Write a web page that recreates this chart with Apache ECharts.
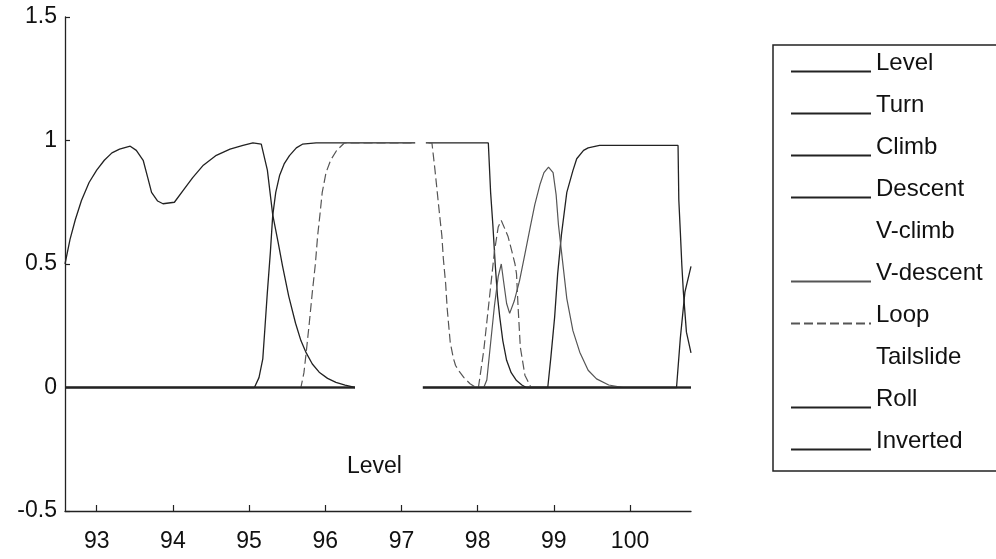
<!DOCTYPE html>
<html>
<head>
<meta charset="utf-8">
<script src="https://cdn.jsdelivr.net/npm/echarts@6/dist/echarts.min.js"></script>
<style>
html,body{margin:0;padding:0;background:#fff;}
#chart{width:996px;height:559px;}
</style>
</head>
<body>
<div id="chart"></div>
<script>
// ---- data (time, output) ----
const xTicks = [93, 94, 95, 96, 97, 98, 99, 100];
const legendNames = ['Level', 'Turn', 'Climb', 'Descent', 'V-climb', 'V-descent', 'Loop', 'Tailslide', 'Roll', 'Inverted'];

const levelPts = [
  [92.584,0.50],[92.65,0.60],[92.72,0.68],[92.80,0.757],[92.90,0.83],[93.00,0.88],[93.10,0.92],[93.20,0.95],
  [93.30,0.965],[93.44,0.977],[93.52,0.96],[93.61,0.92],[93.67,0.85],[93.72,0.79],[93.80,0.755],[93.87,0.744],
  [94.02,0.75],[94.14,0.80],[94.26,0.85],[94.40,0.90],[94.57,0.94],[94.75,0.965],[94.92,0.98],[95.05,0.99],
  [95.16,0.985],[95.24,0.88],[95.31,0.70],[95.38,0.59],[95.44,0.49],[95.52,0.37],[95.61,0.26],[95.68,0.19],
  [95.75,0.14],[95.83,0.095],[95.92,0.062],[96.03,0.037],[96.14,0.021],[96.26,0.01],[96.39,0.0],
  [98.92,0.0],[98.96,0.12],[99.01,0.284],[99.05,0.46],[99.10,0.62],[99.17,0.79],[99.25,0.878],[99.30,0.926],
  [99.39,0.96],[99.45,0.97],[99.60,0.98],[100.63,0.98],[100.635,0.87],[100.64,0.76],[100.66,0.63],
  [100.68,0.494],[100.70,0.386],[100.74,0.224],[100.80,0.14]
];
const turnPts = [[92.584,0],[100.80,0]];
const climbPts = [
  [92.584,0],[95.07,0],[95.13,0.04],[95.18,0.116],[95.21,0.25],[95.24,0.386],[95.28,0.55],[95.31,0.696],
  [95.35,0.79],[95.40,0.858],[95.46,0.905],[95.53,0.939],[95.62,0.97],[95.70,0.985],[95.88,0.99],
  [98.14,0.99],[98.17,0.79],[98.20,0.656],[98.23,0.50],[98.26,0.37],[98.29,0.285],[98.33,0.19],[98.38,0.11],
  [98.44,0.06],[98.51,0.028],[98.58,0.01],[98.64,0],[100.80,0]
];
const descentPts = [[92.584,0],[100.80,0]];
const vclimbPts = [[97.18,0.99],[97.32,0.99]];
const vdescentPts = [
  [92.584,0],[98.08,0],[98.12,0.03],[98.17,0.18],[98.22,0.33],[98.27,0.45],[98.31,0.5],[98.34,0.43],
  [98.38,0.34],[98.42,0.30],[98.48,0.35],[98.55,0.433],[98.62,0.54],[98.69,0.649],[98.75,0.74],[98.82,0.824],
  [98.87,0.87],[98.93,0.892],[98.99,0.87],[99.03,0.78],[99.06,0.66],[99.10,0.55],[99.17,0.36],[99.25,0.23],
  [99.34,0.143],[99.45,0.07],[99.56,0.035],[99.72,0.01],[99.91,0],[100.80,0]
];
const loopPts = [
  [92.584,0],[95.68,0],[95.72,0.06],[95.75,0.143],[95.79,0.26],[95.83,0.386],[95.87,0.50],[95.90,0.615],
  [95.93,0.70],[95.96,0.79],[96.01,0.87],[96.07,0.92],[96.15,0.96],[96.25,0.99],[97.40,0.99],[97.44,0.88],
  [97.47,0.79],[97.50,0.70],[97.53,0.615],[97.55,0.52],[97.58,0.42],[97.60,0.32],[97.64,0.183],[97.68,0.12],
  [97.71,0.089],[97.75,0.069],[97.82,0.04],[97.90,0.015],[97.98,0],[98.01,0],[98.08,0.15],[98.15,0.35],
  [98.22,0.55],[98.27,0.65],[98.31,0.676],[98.36,0.64],[98.40,0.61],[98.45,0.55],[98.49,0.50],[98.51,0.46],
  [98.53,0.33],[98.56,0.163],[98.62,0.05],[98.70,0],[100.80,0]
];
const tailslidePts = [[96.39,0],[97.28,0]];
const rollPts = [[92.584,0],[100.61,0],[100.66,0.2],[100.72,0.386],[100.80,0.49]];
const invertedPts = [[92.584,0],[100.80,0]];

const seriesData = {
  'Level': levelPts, 'Turn': turnPts, 'Climb': climbPts, 'Descent': descentPts, 'V-climb': vclimbPts,
  'V-descent': vdescentPts, 'Loop': loopPts, 'Tailslide': tailslidePts, 'Roll': rollPts, 'Inverted': invertedPts
};
const seriesStyle = {
  'Level': {color:'#222', type:'solid', width:1.3, z:2},
  'Turn': {color:'#222', type:'solid', width:1.3, z:2},
  'Climb': {color:'#222', type:'solid', width:1.3, z:2},
  'Descent': {color:'#222', type:'solid', width:1.3, z:2},
  'V-climb': {color:'#ffffff', type:'solid', width:5, z:4},
  'V-descent': {color:'#555', type:'solid', width:1.2, z:2},
  'Loop': {color:'#555', type:[9,4], width:1.2, z:2},
  'Tailslide': {color:'#ffffff', type:'solid', width:5, z:4},
  'Roll': {color:'#222', type:'solid', width:1.3, z:2},
  'Inverted': {color:'#222', type:'solid', width:1.3, z:2}
};

const FONT = "'Liberation Sans', Arial, Helvetica, sans-serif";
const chart = echarts.init(document.getElementById('chart'), null, {renderer:'canvas'});
const option = {
  animation: false,
  backgroundColor: '#fff',
  grid: {left: 65, top: 17, width: 626, height: 494, containLabel: false},
  xAxis: {
    type: 'value', min: 92.584, max: 100.80,
    axisLine: {show: true, onZero: false, lineStyle: {color: '#222', width: 1.3}},
    axisTick: {show: true, inside: true, length: 6, customValues: xTicks, lineStyle: {color: '#222', width: 1.2}},
    axisLabel: {show: true, customValues: xTicks, margin: 19, fontSize: 23, color: '#111', fontFamily: FONT},
    splitLine: {show: false}
  },
  yAxis: {
    type: 'value', min: -0.5, max: 1.5, interval: 0.5,
    axisLine: {show: true, lineStyle: {color: '#222', width: 1.3}},
    axisTick: {show: true, inside: true, length: 5, lineStyle: {color: '#222', width: 1.2}},
    axisLabel: {margin: 8, fontSize: 23, color: '#111', fontFamily: FONT},
    splitLine: {show: false}
  },
  legend: {
    orient: 'vertical', left: 773, top: 45,
    data: legendNames,
    selectedMode: false,
    formatter: '{name}\n ',
    itemWidth: 80, itemHeight: 14, itemGap: 1,
    padding: [6, 20, 1, 17],
    borderColor: '#222', borderWidth: 1.5,
    itemStyle: {opacity: 0, borderWidth: 0},
    textStyle: {fontSize: 24, color: '#111', fontFamily: FONT, lineHeight: 17}
  },
  graphic: [{
    type: 'text', left: 347, top: 455,
    style: {text: 'Level', fontSize: 23, fill: '#111', fontFamily: FONT}
  }],
  series: legendNames.map(name => ({
    name: name, type: 'line', symbol: 'none', showSymbol: false,
    data: seriesData[name], z: seriesStyle[name].z,
    lineStyle: {color: seriesStyle[name].color, type: seriesStyle[name].type, width: seriesStyle[name].width},
    itemStyle: {color: seriesStyle[name].color}
  }))
};
chart.setOption(option);
</script>
</body>
</html>
